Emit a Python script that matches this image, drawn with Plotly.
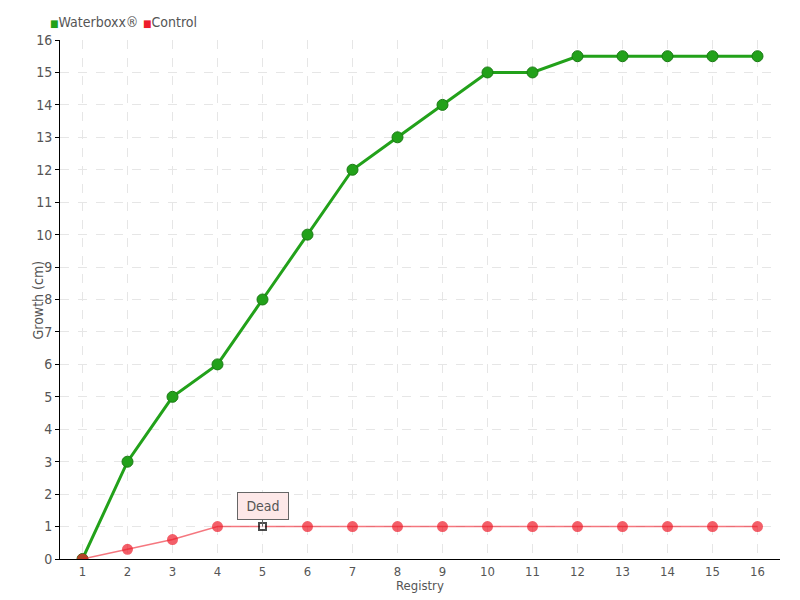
import plotly.graph_objects as go

registry = list(range(1, 17))
waterboxx = [0, 3, 5, 6, 8, 10, 12, 13, 14, 15, 15, 15.5, 15.5, 15.5, 15.5, 15.5]
control = [0, 0.3, 0.6, 1, 1, 1, 1, 1, 1, 1, 1, 1, 1, 1, 1, 1]
y_ticks = list(range(0, 17))
dead_index = 4
series_names = ["Waterboxx®", "Control"]
x_title = "Registry"
y_title = "Growth (cm)"

FONT = "DejaVu Sans Condensed, Liberation Sans Narrow, sans-serif"
green = "#22a11a"
red = "#ee1c2a"

ctrl_symbols = ["circle"] * len(registry)
ctrl_symbols[dead_index] = "square"
ctrl_colors = [red] * len(registry)
ctrl_colors[dead_index] = "white"
ctrl_line_colors = [red] * len(registry)
ctrl_line_colors[dead_index] = "black"
ctrl_sizes = [9] * len(registry)
ctrl_sizes[dead_index] = 7

fig = go.Figure()
fig.add_trace(go.Scatter(
    x=registry, y=waterboxx, name=series_names[0], mode="lines+markers",
    line=dict(color=green, width=3), showlegend=False,
    marker=dict(color=green, size=11, line=dict(color="#1a7a14", width=1)),
))
fig.add_trace(go.Scatter(
    x=registry, y=control, name=series_names[1], mode="lines+markers",
    line=dict(color="rgba(238,28,42,0.6)", width=1.5), showlegend=False,
    marker=dict(color=ctrl_colors, size=ctrl_sizes, symbol=ctrl_symbols,
                line=dict(color=ctrl_line_colors, width=2)),
))

fig.add_annotation(x=registry[dead_index], y=control[dead_index], text="Dead", showarrow=True,
                   arrowhead=0, arrowwidth=1, arrowcolor="#666", ax=0, ay=-21,
                   bgcolor="#fde8e8", bordercolor="#666", borderwidth=1, borderpad=5,
                   width=40, font=dict(family=FONT, size=14, color="#555"))

# compact legend (small squares right before the names)
legend_x = [-0.0167, 0.1125]
for name, col, lx in zip(series_names, [green, red], legend_x):
    fig.add_annotation(xref="paper", yref="paper", x=lx, y=1.0347,
                       xanchor="left", yanchor="middle", showarrow=False,
                       text=f'<span style="color:{col};font-size:10px">■</span>{name}',
                       font=dict(family=FONT, size=14, color="#555"))

# axis titles
fig.add_annotation(xref="paper", yref="paper", x=0.5, y=-0.051, text=x_title,
                   showarrow=False, xanchor="center", yanchor="middle",
                   font=dict(family=FONT, size=13, color="#555"))
fig.add_annotation(xref="paper", yref="paper", x=-0.0306, y=0.5, text=y_title,
                   showarrow=False, xanchor="center", yanchor="middle", textangle=-90,
                   font=dict(family=FONT, size=14, color="#555"))

fig.update_layout(
    width=792, height=592,
    margin=dict(l=52, r=20, t=32, b=41),
    plot_bgcolor="white", paper_bgcolor="white",
    font=dict(family=FONT, size=14, color="#555"),
    showlegend=False,
    xaxis=dict(
        range=[0.5, 16.5], tickmode="array", tickvals=registry,
        ticktext=[str(r) for r in registry], automargin=False,
        showgrid=True, gridcolor="#e6e6e6", griddash="dash", gridwidth=1,
        showline=True, linecolor="black", linewidth=1,
        ticks="", zeroline=False,
        tickfont=dict(size=13, color="#555"),
    ),
    yaxis=dict(
        range=[0, 16], tickmode="array", tickvals=y_ticks, automargin=False,
        showgrid=True, gridcolor="#e6e6e6", griddash="dash", gridwidth=1,
        showline=True, linecolor="black", linewidth=1,
        ticks="outside", ticklen=4, tickcolor="black",
        zeroline=False,
        tickfont=dict(size=14, color="#555"),
    ),
)

fig.write_html("out.html")
